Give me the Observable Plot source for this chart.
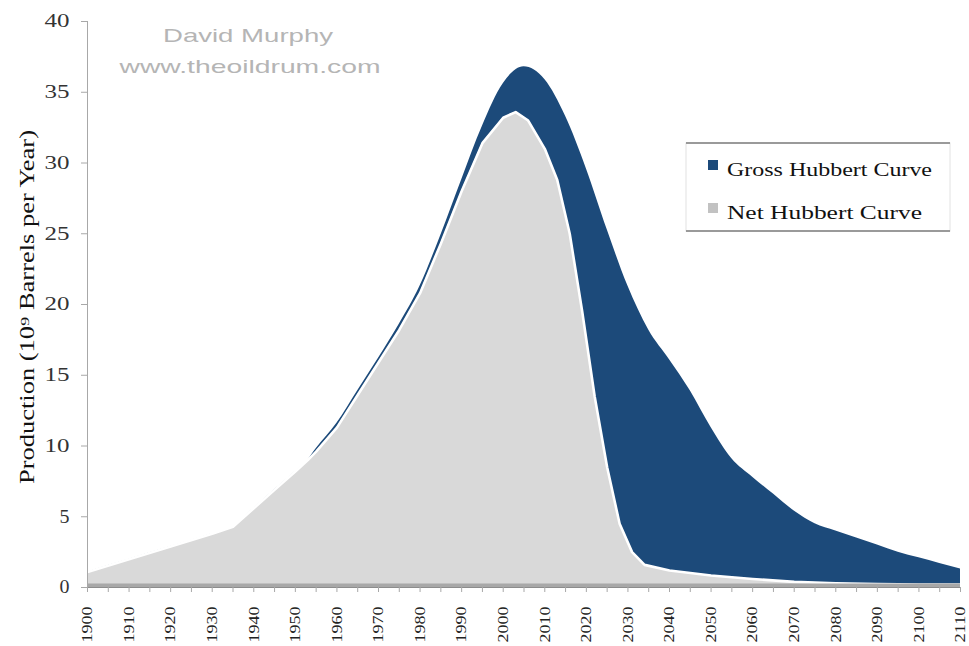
<!DOCTYPE html>
<html>
<head>
<meta charset="utf-8">
<script src="https://cdn.jsdelivr.net/npm/d3@7"></script>
<script src="https://cdn.jsdelivr.net/npm/@observablehq/plot@0.6"></script>
<style>
  html, body { margin: 0; padding: 0; background: #fff; }
  #wrap { position: relative; width: 969px; height: 646px; overflow: hidden; }
  #wrap svg { position: absolute; left: 0; top: 0; }
</style>
</head>
<body>
<div id="wrap"></div>
<script>
// ---- data ----
const seriesNames = ["Gross Hubbert Curve", "Net Hubbert Curve"];
const seriesColors = ["#1c4a7a", "#d9d9d9"];
const legendSwatch = ["#1c4a7a", "#c2c2c2"];

const grossYears = [1900, 1910, 1920, 1930, 1935, 1940, 1945, 1950, 1953, 1955, 1960, 1965, 1970, 1975, 1980, 1985, 1990, 1995, 2000, 2005, 2010, 2015, 2020, 2025, 2030, 2035, 2040, 2045, 2050, 2055, 2060, 2065, 2070, 2075, 2080, 2085, 2090, 2095, 2100, 2105, 2110];
const grossValues = [1.1, 2.0, 2.9, 3.8, 4.3, 5.6, 6.9, 8.2, 9.0, 9.8, 11.6, 13.9, 16.2, 18.6, 21.3, 24.9, 28.8, 32.6, 35.6, 36.8, 35.9, 33.3, 29.6, 25.3, 21.3, 18.2, 16.1, 13.9, 11.3, 9.1, 7.8, 6.6, 5.4, 4.5, 4.0, 3.5, 3.0, 2.5, 2.1, 1.7, 1.3];

const netYears = [1900, 1910, 1920, 1930, 1935, 1940, 1945, 1950, 1953, 1955, 1960, 1965, 1970, 1975, 1980, 1985, 1990, 1995, 2000, 2003, 2006, 2010, 2013, 2016, 2019, 2022, 2025, 2028, 2031, 2034, 2040, 2050, 2060, 2070, 2080, 2090, 2100, 2110];
const netValues = [1.1, 2.0, 2.9, 3.8, 4.3, 5.6, 6.9, 8.2, 9.0, 9.6, 11.3, 13.6, 15.9, 18.2, 20.8, 24.3, 28.0, 31.4, 33.2, 33.6, 33.0, 31.0, 28.8, 25.0, 19.5, 13.5, 8.5, 4.5, 2.5, 1.6, 1.2, 0.85, 0.6, 0.4, 0.3, 0.25, 0.2, 0.2];

const yTicks = [0, 5, 10, 15, 20, 25, 30, 35, 40];
const xTicks = d3.range(1900, 2111, 5);      // tick marks every 5 years
const xLabelEvery = 10;                      // labels every 10 years
const yLabelText = "Production (10\u2079 Barrels per Year)";
const watermark = ["David Murphy", "www.theoildrum.com"];

// ---- tables ----
const gross = grossYears.map((year, i) => ({year, value: grossValues[i]}));
const net = netYears.map((year, i) => ({year, value: netValues[i]}));

const chart = Plot.plot({
  width: 969,
  height: 646,
  marginLeft: 87,
  marginRight: 9,
  marginTop: 21,
  marginBottom: 59,
  style: {fontFamily: "Liberation Serif, serif", background: "transparent"},
  x: {domain: [1900, 2110]},
  y: {domain: [0, 40]},
  marks: [
    Plot.areaY(gross, {x: "year", y: "value", fill: seriesColors[0], curve: "monotone-x"}),
    Plot.areaY(net, {x: "year", y: "value", fill: seriesColors[1], curve: "linear"}),
    Plot.lineY(net, {x: "year", y: "value", stroke: "#ffffff", strokeWidth: 2.6, curve: "linear"}),
    Plot.ruleY([0], {stroke: "#a8a8a8", strokeWidth: 4, dy: -2}),
    Plot.ruleY([0], {stroke: "#8c8c8c", strokeWidth: 1}),
    Plot.ruleX([1900], {stroke: "#a8a8a8", strokeWidth: 1}),
    Plot.axisY({
      ticks: yTicks, tickSize: 6, tickPadding: 12, fontSize: 18, stroke: "#a8a8a8",
      label: null, color: "#333"
    }),
    Plot.axisX({
      ticks: xTicks, tickSize: 5, tickPadding: 14, tickRotate: -90, fontSize: 15,
      tickFormat: d => (d % xLabelEvery === 0 ? String(d) : ""),
      label: null, stroke: "#a8a8a8", color: "#222"
    })
  ]
});

const wrap = document.getElementById("wrap");
wrap.appendChild(chart);

// stretch tick labels like the reference (wide, condensed look)
const svg = d3.select(chart);
svg.selectAll('g[aria-label="x-axis tick label"] text').each(function() {
  const t = this.textContent;
  if (t.length) { this.setAttribute("textLength", 36); this.setAttribute("lengthAdjust", "spacingAndGlyphs"); }
});
svg.selectAll('g[aria-label="y-axis tick label"] text').each(function() {
  const t = this.textContent;
  this.setAttribute("textLength", t.length === 1 ? 10 : 25);
  this.setAttribute("lengthAdjust", "spacingAndGlyphs");
});

// ---- overlay: watermark, y label, legend ----
const ov = d3.select(wrap).append("svg")
  .attr("width", 969).attr("height", 646)
  .style("position", "absolute").style("left", 0).style("top", 0);

const wmSpec = [{x: 248, y: 42, len: 170}, {x: 250, y: 73, len: 261}];
watermark.forEach((t, i) => {
  ov.append("text")
    .attr("x", wmSpec[i].x).attr("y", wmSpec[i].y)
    .attr("text-anchor", "middle")
    .attr("font-family", "Liberation Sans, Arial, sans-serif")
    .attr("font-size", 19)
    .attr("fill", "#b5b5b5")
    .attr("textLength", wmSpec[i].len)
    .attr("lengthAdjust", "spacingAndGlyphs")
    .text(t);
});

ov.append("text")
  .attr("transform", "translate(34,307) rotate(-90)")
  .attr("text-anchor", "middle")
  .attr("font-family", "Liberation Serif, serif")
  .attr("font-size", 20)
  .attr("fill", "#111")
  .attr("textLength", 354)
  .attr("lengthAdjust", "spacingAndGlyphs")
  .text(yLabelText);

// legend box
const lg = ov.append("g");
lg.append("rect").attr("x", 686).attr("y", 143).attr("width", 264).attr("height", 88)
  .attr("fill", "#fff").attr("stroke", "#e2e2e2").attr("stroke-width", 1);
lg.append("line").attr("x1", 686).attr("x2", 950).attr("y1", 143).attr("y2", 143)
  .attr("stroke", "#9a9a9a").attr("stroke-width", 2);
lg.append("line").attr("x1", 686).attr("x2", 950).attr("y1", 231).attr("y2", 231)
  .attr("stroke", "#9a9a9a").attr("stroke-width", 2);
const itemY = [176, 219];
const itemLen = [205, 195];
seriesNames.forEach((name, i) => {
  lg.append("rect").attr("x", 708).attr("y", itemY[i] - 16).attr("width", 10).attr("height", 10)
    .attr("fill", legendSwatch[i]);
  lg.append("text")
    .attr("x", 727).attr("y", itemY[i])
    .attr("font-family", "Liberation Serif, serif")
    .attr("font-size", 19)
    .attr("fill", "#111")
    .attr("textLength", itemLen[i])
    .attr("lengthAdjust", "spacingAndGlyphs")
    .text(name);
});
</script>
</body>
</html>
